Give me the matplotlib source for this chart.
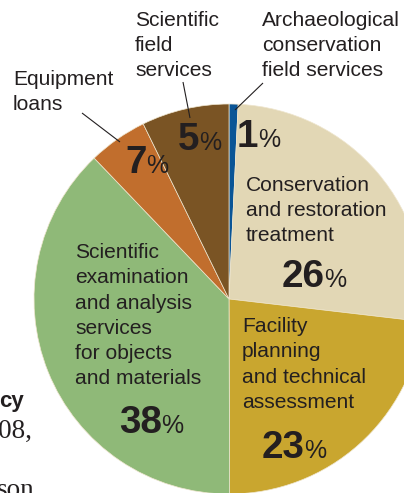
import matplotlib
matplotlib.use("Agg")
import matplotlib.pyplot as plt

# ---- data (slice shares as drawn, clockwise from top) ----
categories = [
    "Archaeological conservation field services",
    "Conservation and restoration treatment",
    "Facility planning and technical assessment",
    "Scientific examination and analysis services for objects and materials",
    "Equipment loans",
    "Scientific field services",
]
shares = [0.75, 26.1, 23.1, 37.9, 4.9, 7.25]
pct_labels = ["1", "26", "23", "38", "7", "5"]
colors = ["#0a5596", "#e2d7b5", "#c9a62f", "#8fb978", "#c16e2d", "#7a5424"]

W, H = 404, 493
fig = plt.figure(figsize=(W / 100, H / 100), dpi=100)
ax = fig.add_axes([0, 0, 1, 1])

def Y(y):
    return H - y

ax.pie(shares, colors=colors, startangle=90, counterclock=False,
       center=(229, Y(299)), radius=195,
       wedgeprops=dict(linewidth=0.5, edgecolor="#efe6cf"))
ax.set_xlim(0, W)
ax.set_ylim(0, H)
ax.axis("off")

TXT = "#231f20"
SANS = ["Liberation Sans", "DejaVu Sans"]
SERIF = ["Liberation Serif", "DejaVu Serif"]
LBL = 15.1
DIG = 27.8
PCT = 18.0

def lines(x, y0, step, rows):
    for i, r in enumerate(rows):
        ax.text(x, Y(y0 + step * i), r, ha="left", va="baseline",
                fontsize=LBL, color=TXT, family=SANS)

lines(135, 26, 25, ["Scientific", "field", "services"])
lines(262, 26, 25, ["Archaeological", "conservation", "field services"])
lines(13, 85, 24.5, ["Equipment", "loans"])
lines(75, 258, 25.3, ["Scientific", "examination", "and analysis",
                      "services", "for objects", "and materials"])
lines(246, 191, 25, ["Conservation", "and restoration", "treatment"])
lines(242, 332, 25.3, ["Facility", "planning", "and technical", "assessment"])

# percentage labels: (digits x, baseline)
pct_pos = {
    "1": (237, 147),
    "26": (282, 287),
    "23": (262, 458),
    "38": (119, 433),
    "7": (125, 173),
    "5": (178, 150),
}
fig.canvas.draw()
renderer = fig.canvas.get_renderer()
for lab in pct_labels:
    xd, yb = pct_pos[lab]
    t = ax.text(xd, Y(yb), lab, ha="left", va="baseline", fontsize=DIG,
                fontweight="bold", color=TXT, family=SANS)
    bb = t.get_window_extent(renderer)
    xr = ax.transData.inverted().transform((bb.x1, bb.y0))[0]
    ax.text(xr - 0.5, Y(yb), "%", ha="left", va="baseline", fontsize=PCT,
            color=TXT, family=SANS)

# leader lines
for (x0, y0), (x1, y1) in [((82, 113), (120, 142)),
                           ((183, 82), (190, 118)),
                           ((263, 83), (235, 110))]:
    ax.plot([x0, x1], [Y(y0), Y(y1)], color=TXT, lw=0.8,
            solid_capstyle="butt")

# fragments of surrounding body text
ax.text(-1, Y(407), "cy", ha="left", va="baseline", fontsize=16,
        fontweight="bold", color=TXT, family=SANS)
ax.text(33, Y(438), "2008,", ha="right", va="baseline", fontsize=19.5,
        color=TXT, family=SERIF)
ax.text(-3, Y(497), "son", ha="left", va="baseline", fontsize=19.5,
        color=TXT, family=SERIF)

fig.savefig("out.png", dpi=100)
